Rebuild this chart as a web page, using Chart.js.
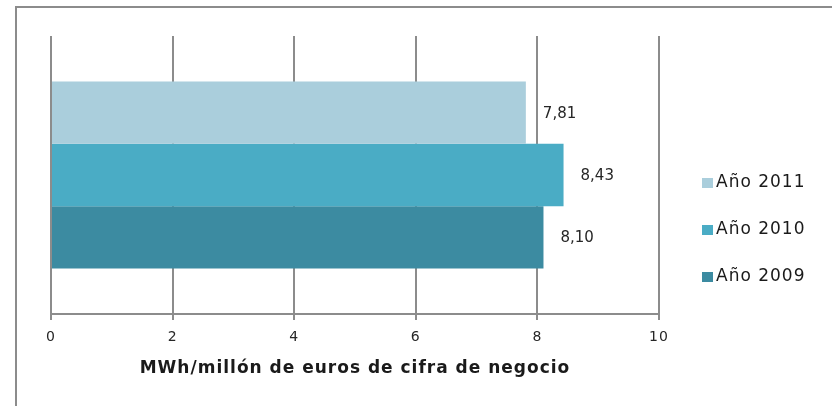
<!DOCTYPE html>
<html>
<head>
<meta charset="utf-8">
<script src="https://cdn.jsdelivr.net/npm/chart.js@4.4.1/dist/chart.umd.min.js"></script>
<style>
  html, body { margin: 0; padding: 0; background: #fff; overflow: hidden; }
  #chart { display: block; }
</style>
</head>
<body>
<canvas id="chart" width="832" height="406"></canvas>
<script>
const categories = [''];
const seriesNames = ['Año 2011', 'Año 2010', 'Año 2009'];
const seriesValues = [[7.81], [8.43], [8.10]];
const seriesColors = ['#aacedc', '#4aacc5', '#3c8ba1'];
const xTicks = [0, 2, 4, 6, 8, 10];
const axisTitle = 'MWh/millón de euros de cifra de negocio';

const FONT = '"DejaVu Sans", Verdana, sans-serif';
const GRID = '#8c8c8c';

const fmt = (v) => v.toFixed(2).replace('.', ',');

// outer frame (only top and left edges fall inside the picture) + spaced axis text
const frame = {
  id: 'frame',
  beforeDraw(chart) {
    const { ctx, width, height } = chart;
    ctx.save();
    ctx.strokeStyle = GRID;
    ctx.lineWidth = 2;
    ctx.beginPath();
    ctx.moveTo(16, height + 2);
    ctx.lineTo(16, 7);
    ctx.lineTo(width + 2, 7);
    ctx.stroke();
    ctx.restore();
    ctx.letterSpacing = '1px';
  }
};

// value labels next to each bar end
const valueLabels = {
  id: 'valueLabels',
  afterDatasetsDraw(chart) {
    const { ctx } = chart;
    ctx.save();
    ctx.letterSpacing = '0px';
    ctx.font = '15px ' + FONT;
    ctx.fillStyle = '#262626';
    ctx.textAlign = 'left';
    ctx.textBaseline = 'middle';
    chart.data.datasets.forEach((ds, i) => {
      chart.getDatasetMeta(i).data.forEach((bar, j) => {
        ctx.fillText(fmt(ds.data[j]), bar.x + 17, bar.y + 1);
      });
    });
    ctx.restore();
  }
};

// legend on the right, one row per series
const sideLegend = {
  id: 'sideLegend',
  afterDraw(chart) {
    const { ctx, chartArea } = chart;
    const mid = (chartArea.top + chartArea.bottom) / 2;
    ctx.save();
    ctx.font = '17px ' + FONT;
    ctx.letterSpacing = '1px';
    ctx.textAlign = 'left';
    ctx.textBaseline = 'middle';
    chart.data.datasets.forEach((ds, i) => {
      const y = mid + 8 + i * 47;
      ctx.fillStyle = ds.backgroundColor;
      ctx.fillRect(chartArea.right + 43, y - 5, 11, 10);
      ctx.fillStyle = '#1a1a1a';
      ctx.fillText(ds.label, chartArea.right + 57, y);
    });
    ctx.restore();
  }
};

new Chart(document.getElementById('chart'), {
  type: 'bar',
  data: {
    labels: categories,
    datasets: seriesNames.map((name, i) => ({
      label: name,
      data: seriesValues[i],
      backgroundColor: seriesColors[i],
      borderWidth: 0,
      barPercentage: 1,
      categoryPercentage: 0.673
    }))
  },
  options: {
    indexAxis: 'y',
    responsive: false,
    animation: false,
    layout: { padding: { left: 51, right: 173, top: 36, bottom: 27 } },
    plugins: {
      legend: { display: false },
      tooltip: { enabled: false }
    },
    scales: {
      x: {
        min: 0,
        max: 10,
        afterBuildTicks: (scale) => { scale.ticks = xTicks.map((v) => ({ value: v })); },
        afterFit: (scale) => { scale.height = 65; },
        grid: { color: GRID, lineWidth: 2, tickLength: 6, drawTicks: true },
        border: { color: GRID, width: 2 },
        ticks: { font: { family: FONT, size: 14 }, color: '#262626', padding: 9, maxRotation: 0 },
        title: {
          display: true,
          text: axisTitle,
          font: { family: FONT, size: 17, weight: 'bold' },
          color: '#1a1a1a',
          padding: { top: 6, bottom: 0 }
        }
      },
      y: { display: false }
    }
  },
  plugins: [frame, valueLabels, sideLegend]
});
</script>
</body>
</html>
